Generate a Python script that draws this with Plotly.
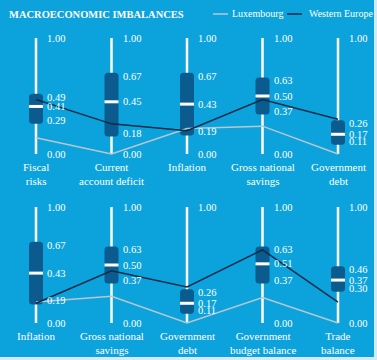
import plotly.graph_objects as go

# ---------------- data ----------------
top_categories = ["Fiscal<br>risks", "Current<br>account deficit", "Inflation",
                  "Gross national<br>savings", "Government<br>debt"]
top_q1 = [0.29, 0.18, 0.19, 0.37, 0.11]
top_med = [0.41, 0.45, 0.43, 0.50, 0.17]
top_q3 = [0.49, 0.67, 0.67, 0.63, 0.26]
top_show_zero = [True, True, True, True, False]
top_western_europe = [0.47, 0.26, 0.20, 0.47, 0.30]
top_luxembourg = [0.14, 0.00, 0.22, 0.24, 0.00]

bottom_categories = ["Inflation", "Gross national<br>savings", "Government<br>debt",
                     "Government<br>budget balance", "Trade<br>balance"]
bottom_q1 = [0.19, 0.37, 0.11, 0.37, 0.30]
bottom_med = [0.43, 0.50, 0.17, 0.51, 0.37]
bottom_q3 = [0.67, 0.63, 0.26, 0.63, 0.46]
bottom_show_zero = [True, True, False, True, True]
bottom_western_europe = [0.17, 0.45, 0.31, 0.63, 0.18]
bottom_luxembourg = [0.18, 0.23, 0.00, 0.22, 0.00]

axis_min, axis_max = 0.0, 1.0

# ---------------- style ----------------
W, H = 377, 360
BG = "#0ca3dc"
BOX = "#0b5b8f"
LUX = "#b9c7cf"
WE = "#0b2b47"
FONT = "Liberation Serif"
PX_PER_X = 75.5
PX_PER_Y = 116.0
BOX_HALF = 7 / PX_PER_X
PAD = 0.03
RX, RY = 3.5 / PX_PER_X, 3.5 / PX_PER_Y

fig = go.Figure()
shapes = []
annotations = []

# blue panel
shapes.append(dict(type="rect", xref="paper", yref="paper", x0=0, x1=374 / W,
                   y0=3 / H, y1=1, fillcolor=BG, line_width=0, layer="below"))


def rounded_box(xc, lo, hi):
    x0, x1 = xc - BOX_HALF, xc + BOX_HALF
    return (f"M {x0 + RX},{lo} L {x1 - RX},{lo} Q {x1},{lo} {x1},{lo + RY} "
            f"L {x1},{hi - RY} Q {x1},{hi} {x1 - RX},{hi} L {x0 + RX},{hi} "
            f"Q {x0},{hi} {x0},{hi - RY} L {x0},{lo + RY} Q {x0},{lo} {x0 + RX},{lo} Z")


panels = [
    ("y", top_categories, top_q1, top_med, top_q3, top_show_zero,
     top_western_europe, top_luxembourg, 1 - 159 / H),
    ("y2", bottom_categories, bottom_q1, bottom_med, bottom_q3, bottom_show_zero,
     bottom_western_europe, bottom_luxembourg, 1 - 328 / H),
]

for yref, cats, q1, med, q3, show0, we, lux, label_y in panels:
    xs = list(range(len(cats)))
    for i in xs:
        # white axis line
        shapes.append(dict(type="line", xref="x", yref=yref, x0=i, x1=i,
                           y0=axis_min, y1=axis_max, line=dict(color="white", width=2.5),
                           layer="below"))
        # box
        shapes.append(dict(type="path", xref="x", yref=yref,
                           path=rounded_box(i, q1[i] - PAD, q3[i] + PAD),
                           fillcolor=BOX, line_width=0, layer="below"))
        # median
        shapes.append(dict(type="line", xref="x", yref=yref,
                           x0=i - BOX_HALF, x1=i + BOX_HALF, y0=med[i], y1=med[i],
                           line=dict(color="white", width=3), layer="below"))
        # value labels
        vals = [axis_max, q3[i], med[i], q1[i]] + ([axis_min] if show0[i] else [])
        for v in vals:
            annotations.append(dict(x=i, y=v, xref="x", yref=yref, xshift=9,
                                    text=f"{v:.2f}", showarrow=False,
                                    xanchor="left", yanchor="middle",
                                    font=dict(family=FONT, size=10.5, color="white")))
        # category labels
        annotations.append(dict(x=i, y=label_y, xref="x", yref="paper",
                                text=cats[i], showarrow=False,
                                xanchor="center", yanchor="top", align="center",
                                font=dict(family=FONT, size=11, color="white")))
    fig.add_trace(go.Scatter(x=xs, y=lux, mode="lines", yaxis=yref, name="Luxembourg",
                             line=dict(color=LUX, width=1.5), showlegend=False,
                             hoverinfo="skip"))
    fig.add_trace(go.Scatter(x=xs, y=we, mode="lines", yaxis=yref, name="Western Europe",
                             line=dict(color=WE, width=1.5), showlegend=False,
                             hoverinfo="skip"))

# title
annotations.append(dict(x=7 / W, y=1 - 15 / H, xref="paper", yref="paper",
                        text="<b>MACROECONOMIC IMBALANCES</b>", showarrow=False,
                        xanchor="left", yanchor="middle",
                        font=dict(family=FONT, size=10.5, color="white")))
# manual legend
for (x0, x1, tx, name, col) in [(213, 228, 230, "Luxembourg", LUX),
                                 (287, 302, 307, "Western Europe", WE)]:
    shapes.append(dict(type="line", xref="paper", yref="paper", x0=x0 / W, x1=x1 / W,
                       y0=1 - 14 / H, y1=1 - 14 / H, line=dict(color=col, width=1.5)))
    annotations.append(dict(x=tx / W, y=1 - 14 / H, xref="paper", yref="paper",
                            text=name, showarrow=False, xanchor="left", yanchor="middle",
                            font=dict(family=FONT, size=10, color="white")))

top0, top1 = 154.0, 38.0
bot0 = 323.0
fig.update_layout(
    width=W, height=H,
    margin=dict(l=0, r=0, t=0, b=0),
    paper_bgcolor="#d2ebf6",
    plot_bgcolor="rgba(0,0,0,0)",
    showlegend=False,
    xaxis=dict(range=[-36 / PX_PER_X, -36 / PX_PER_X + W / PX_PER_X], visible=False,
               fixedrange=True),
    yaxis=dict(range=[(top0 - H) / PX_PER_Y, top0 / PX_PER_Y], visible=False,
               fixedrange=True, domain=[0, 1]),
    yaxis2=dict(range=[(bot0 - H) / PX_PER_Y, bot0 / PX_PER_Y], visible=False,
                fixedrange=True, domain=[0, 1], overlaying="y"),
    shapes=shapes,
    annotations=annotations,
)

fig.write_html("out.html", config={"displayModeBar": False},
               post_script="document.body.style.margin='0';document.body.style.overflow='hidden';")
